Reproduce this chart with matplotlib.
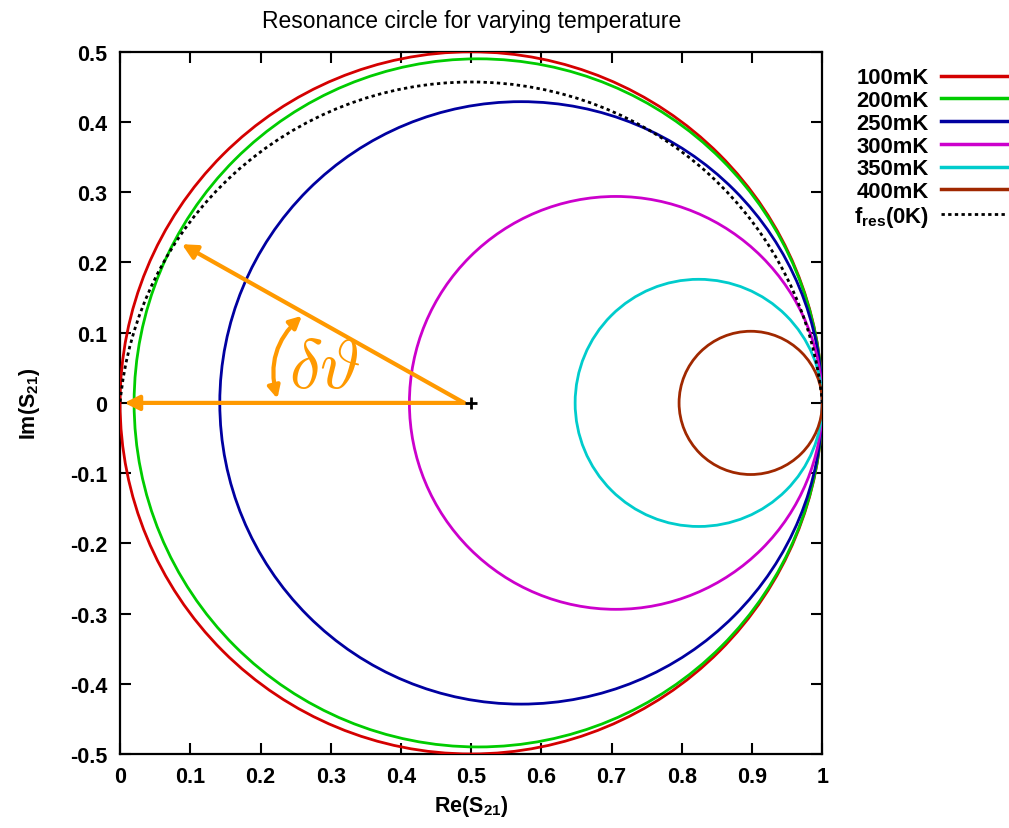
import matplotlib
matplotlib.use("Agg")
import matplotlib.pyplot as plt
from matplotlib.patches import Circle, Arc, FancyArrowPatch
from matplotlib.lines import Line2D

# ---- data ----
labels = ["100mK", "200mK", "250mK", "300mK", "350mK", "400mK"]
centers_x = [0.500, 0.510, 0.571, 0.706, 0.824, 0.898]
radii = [0.500, 0.490, 0.429, 0.294, 0.176, 0.102]
fres_label = r"f$_{\bf res}$(0K)"
fres_center = (0.5, -0.045)
fres_radius = 0.502
fres_theta = (5.1, 174.9)
xticks = [0, 0.1, 0.2, 0.3, 0.4, 0.5, 0.6, 0.7, 0.8, 0.9, 1]
xticklabels = ["0", "0.1", "0.2", "0.3", "0.4", "0.5", "0.6", "0.7", "0.8", "0.9", "1"]
yticks = [-0.5, -0.4, -0.3, -0.2, -0.1, 0, 0.1, 0.2, 0.3, 0.4, 0.5]
yticklabels = ["-0.5", "-0.4", "-0.3", "-0.2", "-0.1", "0", "0.1", "0.2", "0.3", "0.4", "0.5"]
origin = (0.5, 0.0)
arrow_start = (0.49, 0.0)
arrow_tip_h = (0.006, 0.0)
arrow_tip_up = (0.088, 0.226)
arc_ends = [(0.224, 0.006), (0.259, 0.124)]
angle_label_pos = (0.292, 0.048)

colors = ["#d40000", "#00cc00", "#0000a0", "#cc00cc", "#00cccc", "#a02800"]
orange = "#ff9900"

plt.rcParams["font.family"] = ["Liberation Sans", "DejaVu Sans"]
plt.rcParams["mathtext.fontset"] = "custom"
plt.rcParams["mathtext.rm"] = "Liberation Sans"
plt.rcParams["mathtext.bf"] = "Liberation Sans:bold"

fig = plt.figure(figsize=(10.09, 8.29), dpi=100)
ax = fig.add_axes([0.119, 0.0893, 0.696, 0.847])
ax.set_xlim(0, 1)
ax.set_ylim(-0.5, 0.5)

for cx, r, c in zip(centers_x, radii, colors):
    ax.add_patch(Circle((cx, 0), r, fill=False, edgecolor=c, lw=2.0, zorder=3))

ax.add_patch(Arc(fres_center, 2 * fres_radius, 2 * fres_radius,
                 theta1=fres_theta[0], theta2=fres_theta[1],
                 edgecolor="black", lw=2.0, linestyle=(0, (1.2, 1.2)), zorder=4))

# annotation
for tip in (arrow_tip_h, arrow_tip_up):
    ax.add_patch(FancyArrowPatch(arrow_start, tip, arrowstyle="-|>",
                                 mutation_scale=22, color=orange, lw=3.0,
                                 shrinkA=0, shrinkB=0, zorder=6))
ax.add_patch(FancyArrowPatch(arc_ends[0], arc_ends[1], arrowstyle="<|-|>",
                             connectionstyle="arc3,rad=-0.3",
                             mutation_scale=18, color=orange, lw=3.0,
                             shrinkA=0, shrinkB=0, zorder=6))
ax.text(angle_label_pos[0], angle_label_pos[1], r"$\delta\vartheta$",
        color=orange, fontsize=50, ha="center", va="center",
        math_fontfamily="cm", zorder=6)
ax.plot([origin[0]], [origin[1]], marker="+", color="black", ms=8, mew=2, zorder=7)

ax.set_xticks(xticks)
ax.set_xticklabels(xticklabels, fontweight="bold")
ax.set_yticks(yticks)
ax.set_yticklabels(yticklabels, fontweight="bold")
ax.tick_params(direction="in", length=8, width=1.5, labelsize=15.5,
               top=True, right=True, pad=9)
for s in ax.spines.values():
    s.set_linewidth(1.6)

ax.set_title("Resonance circle for varying temperature", fontsize=16.5, pad=18)
ax.set_xlabel(r"Re(S$_{\bf 21}$)", fontsize=15.5, fontweight="bold", labelpad=4)
ax.set_ylabel(r"Im(S$_{\bf 21}$)", fontsize=15.5, fontweight="bold", labelpad=20)

handles = [Line2D([], [], color=c, lw=2.5) for c in colors]
handles.append(Line2D([], [], color="black", lw=2.0, linestyle=(0, (1.2, 1.2))))
leg = ax.legend(handles, labels + [fres_label], loc="upper left",
                bbox_to_anchor=(1.045, 0.978), frameon=False, markerfirst=False,
                prop={"size": 15.8, "weight": "bold"}, handlelength=3.0,
                handletextpad=0.55, labelspacing=0.08, borderaxespad=0,
                borderpad=0)
for t in leg.get_texts():
    t.set_horizontalalignment("right")

fig.savefig("out.png", dpi=100)
